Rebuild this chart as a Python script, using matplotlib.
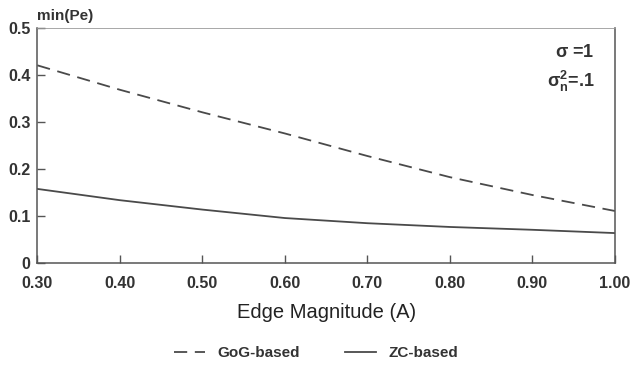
import numpy as np
import matplotlib
matplotlib.use('Agg')
import matplotlib.pyplot as plt

plt.rcParams['font.family'] = ['Liberation Sans', 'DejaVu Sans']
plt.rcParams['lines.scale_dashes'] = False

# Data
edge_mag = [0.30, 0.40, 0.50, 0.60, 0.70, 0.80, 0.90, 1.00]
gog_pe = [0.421, 0.369, 0.321, 0.276, 0.228, 0.183, 0.145, 0.111]
zc_pe = [0.158, 0.134, 0.114, 0.096, 0.085, 0.077, 0.071, 0.064]

x_ticks = [0.30, 0.40, 0.50, 0.60, 0.70, 0.80, 0.90, 1.00]
x_tick_labels = ['0.30', '0.40', '0.50', '0.60', '0.70', '0.80', '0.90', '1.00']
y_ticks = [0, 0.1, 0.2, 0.3, 0.4, 0.5]
y_tick_labels = ['0', '0.1', '0.2', '0.3', '0.4', '0.5']

ink = '#333333'

fig = plt.figure(figsize=(6.32, 3.66), dpi=100)
ax = fig.add_axes([0.059, 0.281, 0.914, 0.642])

ax.plot(edge_mag, gog_pe, color='#4a4a4a', linewidth=1.3, dashes=(9.5, 5.5), label='GoG-based')
ax.plot(edge_mag, zc_pe, color='#4a4a4a', linewidth=1.3, label='ZC-based')

ax.set_xlim(0.30, 1.00)
ax.set_ylim(0, 0.5)
ax.set_xticks(x_ticks)
ax.set_xticklabels(x_tick_labels, fontsize=11.5, fontweight='bold', color=ink)
ax.set_yticks(y_ticks)
ax.set_yticklabels(y_tick_labels, fontsize=11.5, fontweight='bold', color=ink)
ax.tick_params(axis='both', direction='in', length=6, width=1, color='#555555')
ax.tick_params(axis='x', pad=9)
ax.tick_params(axis='y', pad=5)
for s in ax.spines.values():
    s.set_color('#555555')
    s.set_linewidth(1.1)
ax.spines['top'].set_linewidth(0.6)
ax.spines['top'].set_color('#999999')

ax.set_xlabel('Edge Magnitude (A)', fontsize=14.5, color='#222222', labelpad=9)
fig.text(0.059, 0.957, 'min(Pe)', fontsize=11, fontweight='bold', color=ink, ha='left', va='center')

ax.text(0.965, 0.895, r'$\mathregular{\sigma}$ =1', transform=ax.transAxes, fontsize=13,
        fontweight='bold', color=ink, ha='right', va='center')
ax.text(0.965, 0.775, r'$\mathregular{\sigma_{n}^{2}}$=.1', transform=ax.transAxes, fontsize=13,
        fontweight='bold', color=ink, ha='right', va='center')

fig.legend(loc='center', bbox_to_anchor=(0.5, 0.035), ncol=2, frameon=False,
           prop={'weight': 'bold', 'size': 11}, handlelength=2.0,
           columnspacing=3.0, labelcolor=ink)

fig.savefig('out.png', dpi=100)
